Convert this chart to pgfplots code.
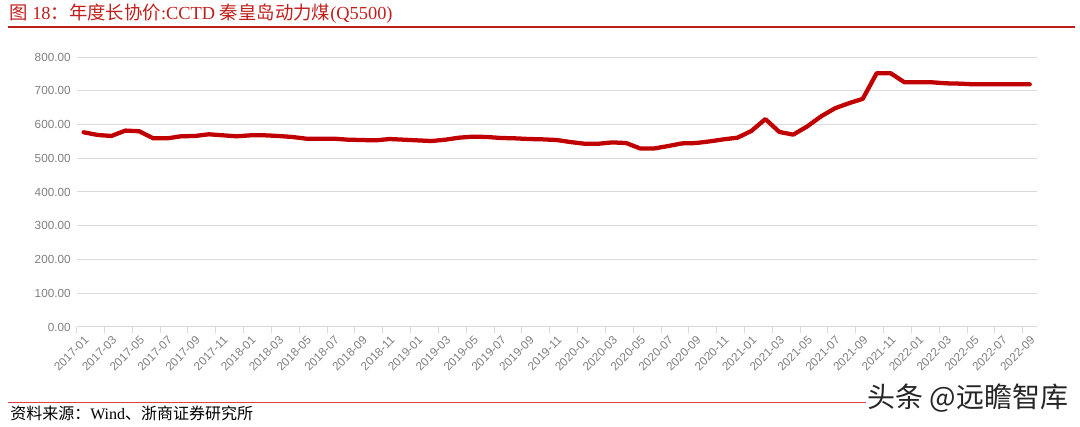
\documentclass[border=0pt]{standalone}
\usepackage{fontspec}
\setmainfont{Liberation Serif}
\newfontfamily\cjk{Noto Sans CJK SC}
\newfontfamily\arial{Liberation Sans}
\usepackage{pgfplots}
\pgfplotsset{compat=1.18}
\definecolor{linered}{HTML}{C00000}
\definecolor{titlered}{HTML}{C0201C}
\definecolor{rulered}{HTML}{E04040}
\definecolor{gridgray}{HTML}{D9D9D9}
\definecolor{labelgray}{HTML}{7F7F7F}

% monthly price, 2017-01 = 0 ... 2022-09 = 68
\pgfplotstableread{
m price
0 577
1 569
2 566
3 582
4 580
5 559
6 559
7 565
8 566
9 571
10 568
11 565
12 568
13 568
14 566
15 563
16 558
17 558
18 558
19 555
20 554
21 553
22 557
23 555
24 553
25 551
26 555
27 561
28 564
29 563
30 560
31 559
32 557
33 556
34 554
35 548
36 543
37 543
38 547
39 545
40 529
41 529
42 536
43 544
44 545
45 550
46 556
47 561
48 581
49 616
50 578
51 570
52 594
53 624
54 648
55 663
56 676
57 752
58 752
59 725
60 725
61 725
62 722
63 721
64 719
65 719
66 719
67 719
68 719
}\pricedata

\begin{document}
\begin{tikzpicture}[x=0.75pt,y=0.75pt]
\path[use as bounding box] (0,0) rectangle (1080,427);

% title and rules
\node[anchor=west, text=titlered, font=\fontsize{13.8}{15}\selectfont, inner sep=0pt]
  at (9,413) {{\cjk 图} 18{\cjk ：年度长协价}:CCTD {\cjk 秦皇岛动力煤}(Q5500)};
\draw[titlered, line width=0.9pt] (8,400) -- (1075,400);
\draw[rulered, line width=0.8pt] (8,24.7) -- (866,24.7);
\node[anchor=west, font=\fontsize{12}{13}\selectfont, inner sep=0pt]
  at (10,14) {{\cjk 资料来源：}Wind{\cjk 、浙商证券研究所}};
\node[anchor=west, font=\cjk\fontsize{21}{22}\selectfont, text=black!85, inner sep=0pt]
  at (867,29) {头条 @远瞻智库};

\begin{axis}[
  at={(57.5pt,75pt)}, anchor=south west,
  scale only axis, width=720pt, height=202.5pt,
  xmin=-0.5, xmax=68.5, ymin=0, ymax=800,
  ytick={0,100,...,800},
  xtick={0,2,...,68},
  xticklabels={2017-01,2017-03,2017-05,2017-07,2017-09,2017-11,
    2018-01,2018-03,2018-05,2018-07,2018-09,2018-11,
    2019-01,2019-03,2019-05,2019-07,2019-09,2019-11,
    2020-01,2020-03,2020-05,2020-07,2020-09,2020-11,
    2021-01,2021-03,2021-05,2021-07,2021-09,2021-11,
    2022-01,2022-03,2022-05,2022-07,2022-09},
  extra x ticks={-0.5,1.5,...,67.5},
  extra x tick labels={},
  extra x tick style={major tick length=4.5pt, tick align=outside,
    xtick style={draw=gridgray, line width=0.75pt}},
  axis x line*=bottom, axis y line*=left,
  x axis line style={draw=gridgray, line width=0.75pt, -},
  y axis line style={draw=none},
  ymajorgrids, grid style={gridgray, line width=0.75pt},
  xtick style={draw=none}, ytick style={draw=none},
  ticklabel style={font=\arial\fontsize{8.8}{10}\selectfont, text=labelgray},
  yticklabel style={xshift=-1pt},
  xticklabel style={rotate=45, anchor=north east, xshift=-1pt, yshift=-1pt},
  /pgf/number format/assume math mode=true,
  yticklabel={\pgfmathprintnumber[fixed, zerofill, precision=2, 1000 sep={}]{\tick}},
]
\addplot[linered, line width=3.2pt, line join=round, line cap=round] table[x=m, y=price] {\pricedata};
\end{axis}
\end{tikzpicture}
\end{document}
